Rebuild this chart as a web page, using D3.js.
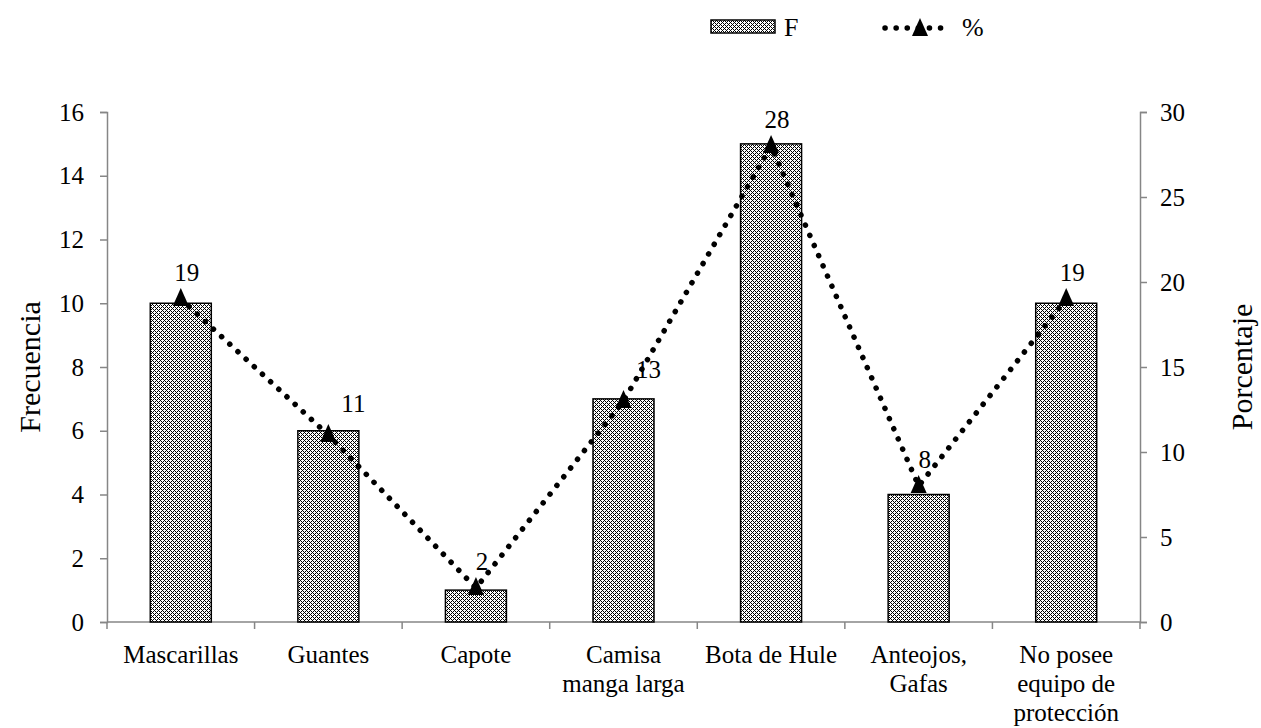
<!DOCTYPE html>
<html>
<head>
<meta charset="utf-8">
<script src="https://cdn.jsdelivr.net/npm/d3@7"></script>
<style>
  body { margin: 0; background: #fff; }
  text { font-family: "Liberation Serif", "Times New Roman", serif; fill: #000; }
</style>
</head>
<body>
<div id="chart"></div>
<script>
(function() {

    var categories = [["Mascarillas"], ["Guantes"], ["Capote"], ["Camisa", "manga larga"],
        ["Bota de Hule"], ["Anteojos,", "Gafas"], ["No posee", "equipo de", "protección"]]
    var frecuencia = [10, 6, 1, 7, 15, 4, 10]
    var porcentaje = [19, 11, 2, 13, 28, 8, 19]
    var labelPlace = ["above", "right", "above", "right", "above", "above", "above"]
    var leftTicks = [0, 2, 4, 6, 8, 10, 12, 14, 16]
    var rightTicks = [0, 5, 10, 15, 20, 25, 30]

    var width = 1261,
    height = 728

    var margin = {left: 107, right: 121, top: 112, bottom: 106}
    var fs = "25px"

    var svg = d3.select("#chart")
    .append("svg")
    .attr("width", width)
    .attr("height", height)

    // fine diamond lattice fill like the original hatch
    var defs = svg.append("defs")
    var pat = defs.append("pattern")
        .attr("id", "checks")
        .attr("patternUnits", "userSpaceOnUse")
        .attr("width", 4)
        .attr("height", 4)
    pat.append("rect").attr("width", 4).attr("height", 4).attr("fill", "#fff")
    var cells = []
    for (var px = 0; px < 4; px++) {
        for (var py = 0; py < 4; py++) {
            if ((px + py) % 4 === 0 || ((px - py) + 4) % 4 === 0) cells.push([px, py])
        }
    }
    pat.selectAll("rect.c")
        .data(cells)
        .enter().append("rect")
        .attr("class", "c")
        .attr("x", function(d){ return d[0] })
        .attr("y", function(d){ return d[1] })
        .attr("width", 1).attr("height", 1)
        .attr("fill", "#000")

    var x = d3.scaleBand()
        .domain(d3.range(categories.length))
        .range([margin.left, width - margin.right])

    var yL = d3.scaleLinear().domain([0, 16]).range([height - margin.bottom, margin.top])
    var yR = d3.scaleLinear().domain([0, 30]).range([height - margin.bottom, margin.top])

    var axisColor = "#868686"

    // left axis
    var gL = svg.append("g")
        .attr("transform", "translate(" + margin.left + ",0)")
        .call(d3.axisLeft(yL).tickValues(leftTicks).tickSize(7).tickPadding(16))
    gL.select(".domain").attr("stroke", axisColor).attr("stroke-width", 1.5)
    gL.selectAll(".tick line").attr("stroke", axisColor).attr("stroke-width", 1.5)
    gL.selectAll("text").style("font-size", fs).style("font-family", "Liberation Serif").attr("fill", "#000")

    // right axis
    var gR = svg.append("g")
        .attr("transform", "translate(" + (width - margin.right) + ",0)")
        .call(d3.axisRight(yR).tickValues(rightTicks).tickSize(7).tickPadding(13))
    gR.select(".domain").attr("stroke", axisColor).attr("stroke-width", 1.5)
    gR.selectAll(".tick line").attr("stroke", axisColor).attr("stroke-width", 1.5)
    gR.selectAll("text").style("font-size", fs).style("font-family", "Liberation Serif").attr("fill", "#000")

    // x axis
    var gX = svg.append("g")
        .attr("transform", "translate(0," + (height - margin.bottom) + ")")
    gX.append("line")
        .attr("x1", margin.left).attr("x2", width - margin.right)
        .attr("stroke", axisColor).attr("stroke-width", 1.5)
    gX.selectAll(".sep")
        .data(d3.range(categories.length + 1))
        .enter().append("line")
        .attr("x1", function(d){ return margin.left + d * x.step() })
        .attr("x2", function(d){ return margin.left + d * x.step() })
        .attr("y1", 0).attr("y2", 7)
        .attr("stroke", axisColor).attr("stroke-width", 1.5)

    var xl = gX.selectAll(".xlab")
        .data(categories)
        .enter().append("text")
        .attr("text-anchor", "middle")
        .style("font-size", fs)
        .attr("transform", function(d, i){ return "translate(" + (x(i) + x.bandwidth() / 2) + ",0)" })
    xl.selectAll("tspan")
        .data(function(d){ return d })
        .enter().append("tspan")
        .attr("x", 0)
        .attr("y", function(d, i){ return 41 + i * 29 })
        .text(function(d){ return d })

    // bars
    var barW = 61
    svg.selectAll(".bar")
        .data(frecuencia)
        .enter().append("rect")
        .attr("class", "bar")
        .attr("x", function(d, i){ return x(i) + x.bandwidth() / 2 - barW / 2 })
        .attr("y", function(d){ return yL(d) })
        .attr("width", barW)
        .attr("height", function(d){ return yL(0) - yL(d) })
        .attr("fill", "url(#checks)")
        .attr("stroke", "#000")
        .attr("stroke-width", 1.5)

    // percentage line
    var line = d3.line()
        .x(function(d, i){ return x(i) + x.bandwidth() / 2 })
        .y(function(d){ return yR(d) })

    svg.append("path")
        .datum(porcentaje)
        .attr("d", line)
        .attr("fill", "none")
        .attr("stroke", "#000")
        .attr("stroke-width", 5.5)
        .attr("stroke-linecap", "round")
        .attr("stroke-dasharray", "0.1 11")

    // tall triangle marker like Excel's
    var triShape = {
        draw: function(ctx) {
            ctx.moveTo(0, -11)
            ctx.lineTo(8, 7)
            ctx.lineTo(-8, 7)
            ctx.closePath()
        }
    }
    var tri = d3.symbol().type(triShape)
    svg.selectAll(".marker")
        .data(porcentaje)
        .enter().append("path")
        .attr("d", tri)
        .attr("transform", function(d, i){
            return "translate(" + (x(i) + x.bandwidth() / 2) + "," + yR(d) + ")"
        })
        .attr("fill", "#000")

    svg.selectAll(".plabel")
        .data(porcentaje)
        .enter().append("text")
        .attr("text-anchor", "middle")
        .style("font-size", fs)
        .attr("x", function(d, i){
            return x(i) + x.bandwidth() / 2 + (labelPlace[i] === "right" ? 25 : 6)
        })
        .attr("y", function(d, i){
            return yR(d) + (labelPlace[i] === "right" ? -23 : -18)
        })
        .text(function(d){ return d })

    // axis titles
    svg.append("text")
        .attr("transform", "translate(40," + ((margin.top + height - margin.bottom) / 2) + ") rotate(-90)")
        .attr("text-anchor", "middle")
        .style("font-size", "30px")
        .text("Frecuencia")

    svg.append("text")
        .attr("transform", "translate(1252," + ((margin.top + height - margin.bottom) / 2) + ") rotate(-90)")
        .attr("text-anchor", "middle")
        .style("font-size", "30px")
        .text("Porcentaje")

    // legend
    var lg = svg.append("g")
    lg.append("rect")
        .attr("x", 711).attr("y", 20).attr("width", 64).attr("height", 13)
        .attr("fill", "url(#checks)").attr("stroke", "#000").attr("stroke-width", 1.5)
    lg.append("text").attr("x", 784).attr("y", 36).style("font-size", "26px").text("F")
    lg.append("line")
        .attr("x1", 885).attr("x2", 945).attr("y1", 28).attr("y2", 28)
        .attr("stroke", "#000").attr("stroke-width", 5.5)
        .attr("stroke-linecap", "round").attr("stroke-dasharray", "0.1 11")
    lg.append("path")
        .attr("d", tri)
        .attr("transform", "translate(920,29)")
        .attr("fill", "#000")
    lg.append("text").attr("x", 962).attr("y", 36).style("font-size", "26px").text("%")

})();
</script>
</body>
</html>
